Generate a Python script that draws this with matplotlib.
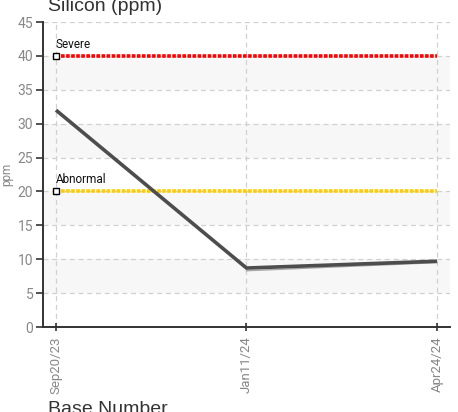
import numpy as np
import matplotlib
matplotlib.use("Agg")
import matplotlib.pyplot as plt

# data
dates = ["Sep20/23", "Jan11/24", "Apr24/24"]
silicon = [32.0, 8.7, 9.7]
shadow = [None, 8.3, 9.5]   # thin lighter trace under the last segment
severe = 40
abnormal = 20
yticks = [0, 5, 10, 15, 20, 25, 30, 35, 40, 45]

plt.rcParams['font.family'] = ['Liberation Sans Narrow', 'Roboto', 'DejaVu Sans']

fig = plt.figure(figsize=(4.58, 4.12), dpi=100)
ax = fig.add_axes([0.0939, 0.2063, 0.8886, 0.7403])

x = np.arange(len(dates))
ax.set_xlim(-0.068, 2.068)
ax.set_ylim(0, 45)

# alternating bands
for lo in range(5, 45, 10):
    ax.axhspan(lo, lo + 5, color="#f7f7f7", zorder=0, lw=0)

ax.set_yticks(yticks)
ax.set_xticks(x)
ax.set_xticklabels(dates, rotation=90)
ax.grid(True, color="#d0d0d0", linestyle=(0, (4, 3)), linewidth=0.9, zorder=1)

# thresholds
ax.plot(x, [severe] * len(x), color="#ff0000", lw=2.6, linestyle=(0, (1, 0.4)), zorder=3)
ax.plot(x, [abnormal] * len(x), color="#ffcc00", lw=2.6, linestyle=(0, (1, 0.4)), zorder=3)
ax.plot([0, 0], [severe, abnormal], linestyle="none", marker="s", ms=4.5,
        mfc="white", mec="black", mew=1, zorder=5)
ax.text(0.0, severe + 1.2, "Severe", fontsize=8.5, color="#111111", zorder=5)
ax.text(0.0, abnormal + 1.2, "Abnormal", fontsize=8.5, color="#111111", zorder=5)

# series
ax.plot(x[1:], shadow[1:], color="#a8a8a8", lw=1, zorder=3)
ax.plot(x, silicon, color="#4d4d4d", lw=2.6, zorder=4, solid_capstyle="butt")

for s in ["top", "right"]:
    ax.spines[s].set_visible(False)
for s in ["left", "bottom"]:
    ax.spines[s].set_color("#333333")
    ax.spines[s].set_linewidth(1.4)
ax.tick_params(axis="y", colors="#333333", labelcolor="#888888", labelsize=10,
               length=5, width=1.2, pad=2)
ax.tick_params(axis="x", colors="#333333", labelcolor="#888888", labelsize=9.5,
               length=6, width=1.2, direction="inout", pad=4)

ax.set_ylabel("ppm", color="#888888", fontsize=8.5)
ax.yaxis.set_label_coords(-0.074, 0.5)

fig.text(0.105, 0.985, "Silicon (ppm)", fontsize=14, color="#333333", va="center", ha="left",
         family=["Liberation Sans", "DejaVu Sans"])
fig.text(0.105, 0.005, "Base Number", fontsize=14, color="#333333", va="center", ha="left",
         family=["Liberation Sans", "DejaVu Sans"])

fig.savefig("out.png", dpi=100)
